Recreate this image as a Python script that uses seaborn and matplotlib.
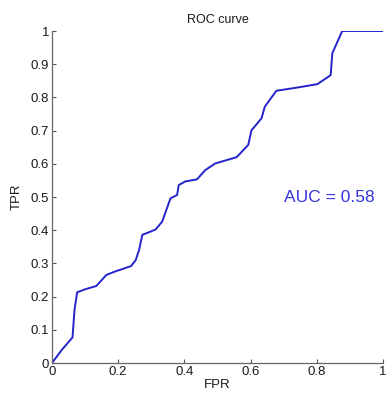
import matplotlib
matplotlib.use("Agg")
import matplotlib.pyplot as plt
import seaborn as sns
import pandas as pd

fpr = [0.0, 0.03, 0.062, 0.068, 0.076, 0.10, 0.134, 0.164, 0.189, 0.239, 0.249, 0.253,
       0.263, 0.273, 0.313, 0.333, 0.358, 0.378, 0.383, 0.403, 0.438, 0.463, 0.493,
       0.558, 0.593, 0.603, 0.608, 0.633, 0.643, 0.678, 0.743, 0.802, 0.842, 0.847,
       0.877, 1.0]
tpr = [0.0, 0.04, 0.077, 0.16, 0.213, 0.222, 0.232, 0.265, 0.275, 0.292, 0.305, 0.31,
       0.34, 0.386, 0.402, 0.426, 0.496, 0.506, 0.536, 0.547, 0.553, 0.581, 0.601,
       0.620, 0.657, 0.702, 0.707, 0.737, 0.772, 0.820, 0.830, 0.840, 0.867, 0.933,
       1.0, 1.0]
ticks = [0, 0.2, 0.4, 0.6, 0.8, 1]
yticks = [0, 0.1, 0.2, 0.3, 0.4, 0.5, 0.6, 0.7, 0.8, 0.9, 1]
auc_text = "AUC = 0.58"

sns.set_style("white")
plt.rcParams["font.family"] = ["Liberation Sans", "DejaVu Sans"]

df = pd.DataFrame({"FPR": fpr, "TPR": tpr})
fig = plt.figure(figsize=(3.88, 3.95), dpi=100)
ax = fig.add_axes([0.134, 0.081, 0.853, 0.8405])
sns.lineplot(data=df, x="FPR", y="TPR", sort=False, ax=ax, color="#2424cc", linewidth=1.4)
ax.set_xlim(0, 1)
ax.set_ylim(0, 1)
ax.set_xticks(ticks)
ax.set_xticklabels(["0", "0.2", "0.4", "0.6", "0.8", "1"])
ax.set_yticks(yticks)
ax.set_yticklabels(["0", "0.1", "0.2", "0.3", "0.4", "0.5", "0.6", "0.7", "0.8", "0.9", "1"])
ax.tick_params(direction="in", length=3, width=0.8, color="#555555", labelsize=9.5,
               labelcolor="#1a1a1a", pad=2, left=True, bottom=True)
for s in ["top", "right"]:
    ax.spines[s].set_visible(False)
for s in ["left", "bottom"]:
    ax.spines[s].set_color("#666666")
    ax.spines[s].set_linewidth(0.9)
ax.set_xlabel("FPR", fontsize=9.5, color="#1a1a1a", labelpad=1)
ax.set_ylabel("TPR", fontsize=9.5, color="#1a1a1a", labelpad=6)
ax.set_title("ROC curve", fontsize=9, color="#1a1a1a", pad=6)
ax.text(0.70, 0.50, auc_text, color="#3333dd", fontsize=12.5, va="center", ha="left")
fig.savefig("out.png", dpi=100)
